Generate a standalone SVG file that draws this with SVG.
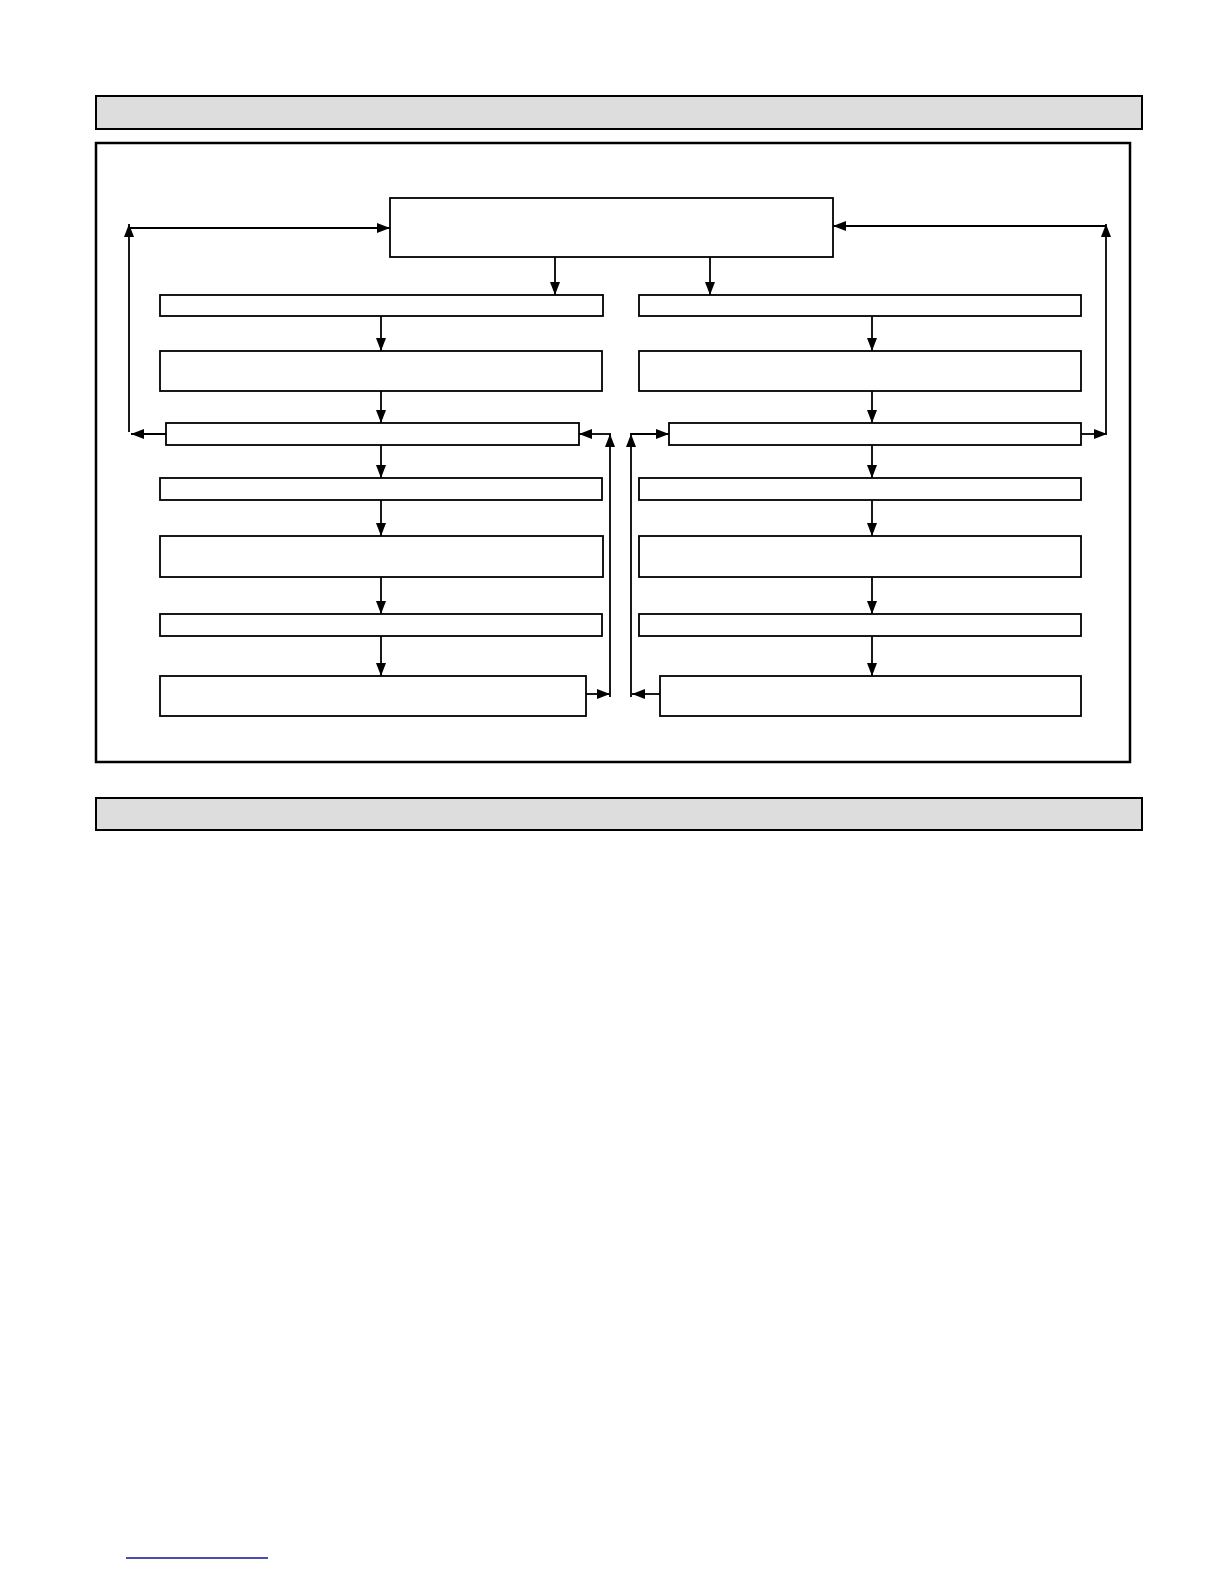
<svg xmlns="http://www.w3.org/2000/svg" width="1224" height="1584" viewBox="0 0 1224 1584">
<style>
.bar{fill:#dddddd;stroke:#000;stroke-width:2}
.frame{fill:none;stroke:#000;stroke-width:2.5}
.box{fill:#fff;stroke:#000;stroke-width:1.8}
.ca{fill:none;stroke:#000;stroke-width:1.8;marker-end:url(#ah)}
</style>
<defs>
<marker id="ah" markerWidth="13" markerHeight="10" refX="13" refY="5" orient="auto" markerUnits="userSpaceOnUse">
<path d="M0,0 L13,5 L0,10 Z" fill="#000"/>
</marker>
</defs>
<rect width="1224" height="1584" fill="#fff"/>
<rect id="header1" class="bar" x="96" y="96" width="1046" height="33"/>
<rect id="frame" class="frame" x="96" y="143" width="1034" height="619"/>
<rect id="header2" class="bar" x="96" y="798" width="1046" height="32"/>
<line id="link" x1="126" y1="1558" x2="268" y2="1558" stroke="#10109a" stroke-width="1.6"/>
<g id="top"><rect class="box" x="390" y="198" width="443" height="59"/></g>
<g id="L1"><rect class="box" x="160" y="295" width="443" height="21"/></g>
<g id="L2"><rect class="box" x="160" y="351" width="442" height="40"/></g>
<g id="L3"><rect class="box" x="166" y="423" width="413" height="22"/></g>
<g id="L4"><rect class="box" x="160" y="478" width="442" height="22"/></g>
<g id="L5"><rect class="box" x="160" y="536" width="443" height="41"/></g>
<g id="L6"><rect class="box" x="160" y="614" width="442" height="22"/></g>
<g id="L7"><rect class="box" x="160" y="676" width="426" height="40"/></g>
<g id="R1"><rect class="box" x="639" y="295" width="442" height="21"/></g>
<g id="R2"><rect class="box" x="639" y="351" width="442" height="40"/></g>
<g id="R3"><rect class="box" x="669" y="423" width="412" height="22"/></g>
<g id="R4"><rect class="box" x="639" y="478" width="442" height="22"/></g>
<g id="R5"><rect class="box" x="639" y="536" width="442" height="41"/></g>
<g id="R6"><rect class="box" x="639" y="614" width="442" height="22"/></g>
<g id="R7"><rect class="box" x="660" y="676" width="421" height="40"/></g>
<g id="connectors">
<line class="ca" x1="555" y1="257" x2="555" y2="295"/>
<line class="ca" x1="710" y1="257" x2="710" y2="295"/>
<line class="ca" x1="381" y1="316" x2="381" y2="351"/>
<line class="ca" x1="381" y1="391" x2="381" y2="423"/>
<line class="ca" x1="381" y1="445" x2="381" y2="478"/>
<line class="ca" x1="381" y1="500" x2="381" y2="536"/>
<line class="ca" x1="381" y1="577" x2="381" y2="614"/>
<line class="ca" x1="381" y1="636" x2="381" y2="676"/>
<line class="ca" x1="872" y1="316" x2="872" y2="351"/>
<line class="ca" x1="872" y1="391" x2="872" y2="423"/>
<line class="ca" x1="872" y1="445" x2="872" y2="478"/>
<line class="ca" x1="872" y1="500" x2="872" y2="536"/>
<line class="ca" x1="872" y1="577" x2="872" y2="614"/>
<line class="ca" x1="872" y1="636" x2="872" y2="676"/>
<line class="ca" x1="166" y1="434" x2="131" y2="434"/>
<line class="ca" x1="129" y1="432" x2="129" y2="224"/>
<line class="ca" x1="129" y1="228" x2="390" y2="228"/>
<line class="ca" x1="1081" y1="434" x2="1107" y2="434"/>
<line class="ca" x1="1106" y1="434" x2="1106" y2="224"/>
<line class="ca" x1="1106" y1="226" x2="833" y2="226"/>
<line class="ca" x1="586" y1="694" x2="610" y2="694"/>
<line class="ca" x1="610" y1="697" x2="610" y2="434"/>
<line class="ca" x1="611" y1="434" x2="579" y2="434"/>
<line class="ca" x1="660" y1="694" x2="632" y2="694"/>
<line class="ca" x1="631" y1="697" x2="631" y2="434"/>
<line class="ca" x1="630" y1="434" x2="669" y2="434"/>
</g>
</svg>
